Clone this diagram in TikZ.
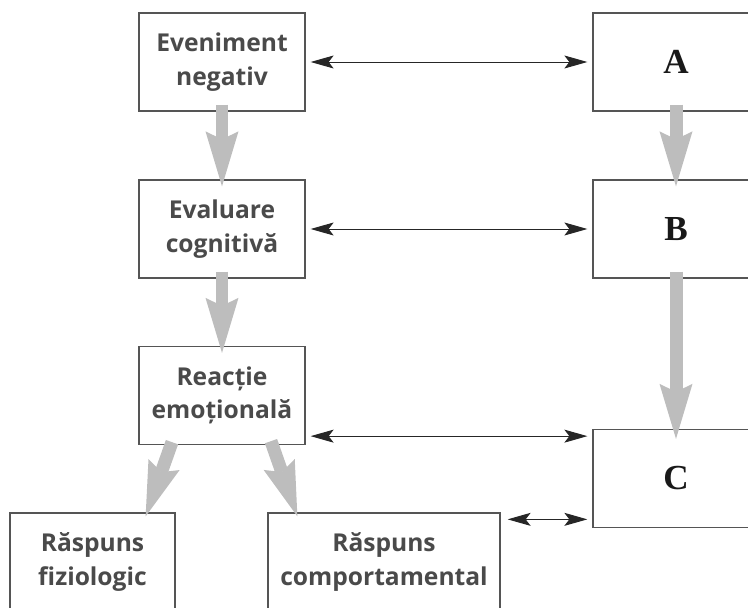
\documentclass[tikz,border=0pt]{standalone}
\usepackage{fontspec}
\usepackage{tikz}
\usetikzlibrary{arrows.meta}
\usetikzlibrary{calc}
\usepackage{xcolor}
\newfontfamily\boxfont{Open Sans}
\newfontfamily\letterfont{Liberation Serif}
\definecolor{boxgray}{HTML}{555555}
\definecolor{textgray}{HTML}{4A4A4A}
\definecolor{flowgray}{HTML}{BDBDBD}
\tikzset{
	stage/.style={draw=boxgray, line width=0.75pt, minimum width=3.32cm, minimum height=1.96cm, inner sep=0pt, align=center, text=textgray, font=\boxfont\bfseries\fontsize{14}{19}\selectfont},
	letter/.style={stage, text=black!90, font=\letterfont\bfseries\fontsize{20}{24}\selectfont},
	link/.style={arrows={Stealth[length=4.6mm,width=2.6mm,inset=1mm]-Stealth[length=4.6mm,width=2.6mm,inset=1mm]}, line width=0.55pt, draw=black!85, shorten <=0.1cm, shorten >=0.1cm},
	flow/.style={arrows={-Stealth[length=1.1cm,width=0.66cm,inset=0.16cm,line width=0pt]}, line width=0.26cm, draw=flowgray, shorten <=-0.14cm, shorten >=-0.14cm}
}

\begin{document}
\begin{tikzpicture}[x=0.02cm, y=-0.02cm]
	\useasboundingbox (0,0) rectangle (748,608);
	\node[stage] (ev) at (222,62) {Eveniment\\negativ};
	\node[stage] (cg) at (222,229) {Evaluare\\cognitivă};
	\node[stage] (em) at (222,395.5) {Reacție\\emoțională};
	\node[stage, minimum width=3.3cm] (fz) at (92.5,562) {Răspuns\\fiziologic};
	\node[stage, minimum width=4.64cm] (cp) at (384,562) {Răspuns\\comportamental};
	\node[letter] (A) at (676,62) {A};
	\node[letter] (B) at (676,229) {B};
	\node[letter] (C) at (676,478.5) {C};
	\coordinate (r3) at ($(em.south east)+(0,-9)$);
	\coordinate (r4) at ($(cp.north east)+(0,7)$);
	\draw[link] (ev) -- (A);
	\draw[link] (cg) -- (B);
	\draw[link] (r3) -- (r3 -| C.west);
	\draw[link, shorten <=0.14cm] (r4) -- (r4 -| C.west);
	\draw[flow] (ev) -- (cg);
	\draw[flow] (cg) -- (em);
	\draw[flow] (A) -- (B);
	\draw[flow, shorten >=-0.2cm] (B) -- (C);
	\draw[flow, shorten <=0pt, shorten >=0pt] ($(em.south)+(-50,-3)$) -- ($(fz.north east)+(-30,4)$);
	\draw[flow, shorten <=0pt, shorten >=0pt] ($(em.south)+(49,-4)$) -- ($(cp.north west)+(30,4)$);
\end{tikzpicture}
\end{document}
